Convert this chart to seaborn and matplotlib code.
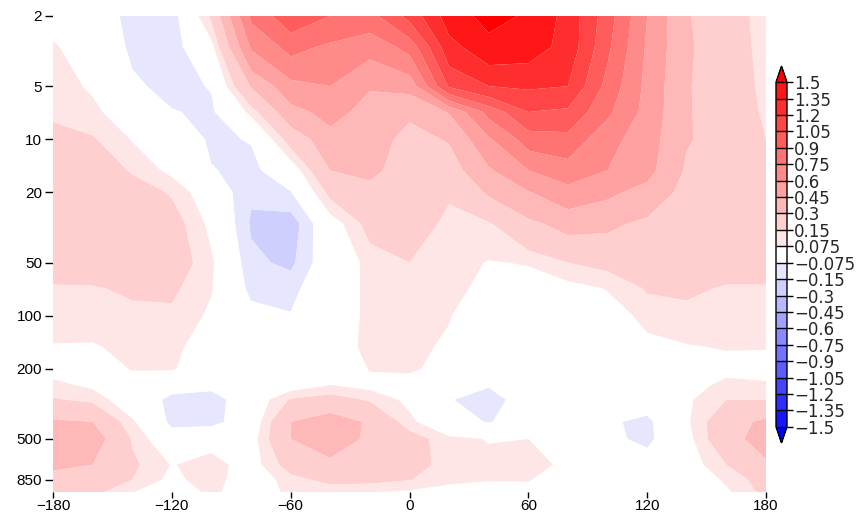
import numpy as np
import matplotlib
matplotlib.use("Agg")
import matplotlib.pyplot as plt
import seaborn as sns
from matplotlib.ticker import FixedLocator, NullLocator

# ---------------- data ----------------
lons = [-180, -160, -140, -120, -100, -80, -60, -40, -20, 0,
        20, 40, 60, 80, 100, 120, 140, 160, 180]
levs = [2, 3, 5, 7, 10, 15, 20, 30, 50, 70, 100, 150, 200, 250, 300,
        400, 500, 700, 850, 1000]

r2 = [0.03, 0.00, -0.11, -0.12, 0.17, 0.78, 1.00, 0.90, 0.85, 1.10, 1.42, 1.55, 1.48, 1.30, 0.97, 0.60, 0.31, 0.22, 0.10]
r3 = [0.09, 0.00, -0.09, -0.12, 0.04, 0.62, 0.80, 0.72, 0.65, 0.80, 1.30, 1.45, 1.42, 1.30, 0.93, 0.58, 0.32, 0.22, 0.11]
r5 = [0.12, 0.06, -0.06, -0.10, -0.07, 0.31, 0.55, 0.60, 0.46, 0.50, 1.07, 1.20, 1.22, 1.20, 0.85, 0.56, 0.31, 0.23, 0.12]
r7 = [0.14, 0.10, 0.00, -0.07, -0.09, 0.10, 0.40, 0.50, 0.40, 0.32, 0.46, 0.80, 1.05, 1.02, 0.78, 0.55, 0.31, 0.24, 0.13]
r10 = [0.17, 0.16, 0.07, 0.00, -0.09, -0.07, 0.20, 0.40, 0.36, 0.26, 0.31, 0.58, 0.82, 0.85, 0.65, 0.52, 0.31, 0.25, 0.15]
r15 = [0.24, 0.22, 0.14, 0.05, -0.07, -0.10, 0.00, 0.30, 0.33, 0.24, 0.23, 0.43, 0.60, 0.68, 0.60, 0.50, 0.28, 0.25, 0.20]
r20 = [0.26, 0.25, 0.20, 0.14, 0.00, -0.14, -0.08, 0.18, 0.26, 0.22, 0.16, 0.32, 0.44, 0.55, 0.48, 0.40, 0.25, 0.25, 0.24]
r30 = [0.27, 0.27, 0.24, 0.20, 0.05, -0.16, -0.20, 0.02, 0.19, 0.20, 0.13, 0.14, 0.27, 0.35, 0.33, 0.27, 0.23, 0.24, 0.26]
r50 = [0.20, 0.22, 0.22, 0.22, 0.09, -0.13, -0.17, 0.00, 0.10, 0.15, 0.11, 0.07, 0.08, 0.15, 0.18, 0.22, 0.20, 0.20, 0.20]
r70 = [0.14, 0.14, 0.17, 0.17, 0.08, -0.10, -0.10, 0.00, 0.10, 0.12, 0.10, 0.05, 0.04, 0.04, 0.08, 0.16, 0.17, 0.14, 0.14]
r100 = [0.11, 0.10, 0.12, 0.13, 0.06, -0.04, -0.07, 0.00, 0.10, 0.12, 0.08, 0.00, 0.00, 0.00, 0.03, 0.10, 0.12, 0.11, 0.11]
r150 = [0.07, 0.07, 0.09, 0.10, 0.02, 0.00, 0.00, 0.02, 0.10, 0.10, 0.06, 0.00, 0.00, 0.00, 0.00, 0.05, 0.07, 0.08, 0.08]
r200 = [0.04, 0.03, 0.08, 0.085, 0.00, 0.00, 0.00, 0.00, 0.08, 0.09, 0.04, -0.03, 0.00, 0.00, 0.00, 0.00, 0.03, 0.05, 0.04]
r250 = [0.10, 0.06, 0.03, -0.04, -0.05, 0.00, 0.03, 0.08, 0.05, 0.03, -0.05, -0.07, 0.00, 0.00, 0.00, 0.00, 0.04, 0.10, 0.09]
r300 = [0.16, 0.13, 0.00, -0.10, -0.12, 0.00, 0.16, 0.20, 0.14, 0.05, -0.07, -0.11, -0.03, 0.00, -0.02, -0.02, 0.06, 0.15, 0.15]
r400 = [0.32, 0.30, 0.09, -0.10, -0.11, 0.00, 0.30, 0.38, 0.28, 0.10, -0.04, -0.08, -0.03, 0.00, -0.06, -0.10, 0.06, 0.24, 0.33]
r500 = [0.40, 0.38, 0.14, -0.02, 0.04, 0.03, 0.30, 0.42, 0.26, 0.20, 0.10, 0.07, 0.075, 0.03, -0.05, -0.10, 0.04, 0.25, 0.36]
r700 = [0.33, 0.30, 0.17, 0.07, 0.11, 0.03, 0.20, 0.25, 0.22, 0.20, 0.11, 0.10, 0.10, 0.06, 0.00, -0.02, 0.02, 0.15, 0.28]
r850 = [0.25, 0.20, 0.15, 0.05, 0.12, 0.00, 0.12, 0.18, 0.18, 0.155, 0.09, 0.08, 0.08, 0.03, 0.00, 0.00, 0.00, 0.09, 0.20]
r1000 = [0.30, 0.18, 0.08, 0.00, 0.10, 0.00, 0.10, 0.10, 0.08, 0.06, 0.05, 0.04, 0.05, 0.05, 0.02, 0.00, 0.00, 0.06, 0.18]

contour_levels = [-1.5, -1.35, -1.2, -1.05, -0.9, -0.75, -0.6, -0.45, -0.3, -0.15, -0.075,
                  0.075, 0.15, 0.3, 0.45, 0.6, 0.75, 0.9, 1.05, 1.2, 1.35, 1.5]
cbar_labels = ["\u22121.5", "\u22121.35", "\u22121.2", "\u22121.05", "\u22120.9", "\u22120.75",
               "\u22120.6", "\u22120.45", "\u22120.3", "\u22120.15", "\u22120.075",
               "0.075", "0.15", "0.3", "0.45", "0.6", "0.75", "0.9", "1.05", "1.2", "1.35", "1.5"]
x_ticks = [-180, -120, -60, 0, 60, 120, 180]
x_ticklabels = ["\u2212180", "\u2212120", "\u221260", "0", "60", "120", "180"]
y_ticks = [2, 5, 10, 20, 50, 100, 200, 500, 850]
y_ticklabels = ["2", "5", "10", "20", "50", "100", "200", "500", "850"]

# ---------------- style ----------------
sns.set_theme(style="white")
plt.rcParams['font.family'] = ['Liberation Sans', 'DejaVu Sans']
plt.rcParams['axes.unicode_minus'] = True

# blue -> white -> red shades (extension colours at both ends)
steps = [0, 23, 46, 69, 92, 115, 138, 161, 184, 207, 230]
blues = ['#%02x%02xff' % (s, s) for s in steps]
reds = ['#ff%02x%02x' % (s, s) for s in steps[::-1]]
shades = blues + ['#ffffff'] + reds   # 22 colours

field = np.array([r2, r3, r5, r7, r10, r15, r20, r30, r50, r70, r100, r150,
                  r200, r250, r300, r400, r500, r700, r850, r1000])

W, H = 858, 515
fig = plt.figure(figsize=(W / 100, H / 100), dpi=100)
ax = fig.add_axes([53 / W, (H - 492) / H, 713 / W, 476 / H])

cf = ax.contourf(lons, levs, field, levels=contour_levels, colors=shades,
                 extend='both', antialiased=True)

ax.set_yscale('log')
ax.set_xlim(-180, 180)
ax.set_ylim(1000, 2)
ax.xaxis.set_major_locator(FixedLocator(x_ticks))
ax.xaxis.set_minor_locator(NullLocator())
ax.set_xticklabels(x_ticklabels)
ax.yaxis.set_major_locator(FixedLocator(y_ticks))
ax.yaxis.set_minor_locator(NullLocator())
ax.set_yticklabels(y_ticklabels)
for s in ax.spines.values():
    s.set_visible(False)
ax.tick_params(axis='y', which='major', direction='out', length=6, width=1,
               color='black', labelcolor='black', labelsize=11, pad=2, left=True)
ax.tick_params(axis='x', which='major', direction='out', length=4, width=1,
               color='black', labelcolor='black', labelsize=11, pad=1, bottom=True)
ax.set_facecolor('white')

# ---------------- colorbar ----------------
cax = fig.add_axes([776 / W, (H - 443) / H, 11 / W, 377 / H])
cb = fig.colorbar(cf, cax=cax, ticks=contour_levels, drawedges=True,
                  extendfrac=0.047)
cb.set_ticklabels(cbar_labels)
cb.outline.set_edgecolor('black')
cb.outline.set_linewidth(1.0)
cb.dividers.set_color('black')
cb.dividers.set_linewidth(1.0)
cax.tick_params(axis='y', direction='out', length=4, width=1, color='black',
                labelsize=12, pad=1, right=True)
for lbl in cax.get_yticklabels():
    lbl.set_family(['DejaVu Sans'])

fig.savefig('out.png', dpi=100, facecolor='white')
